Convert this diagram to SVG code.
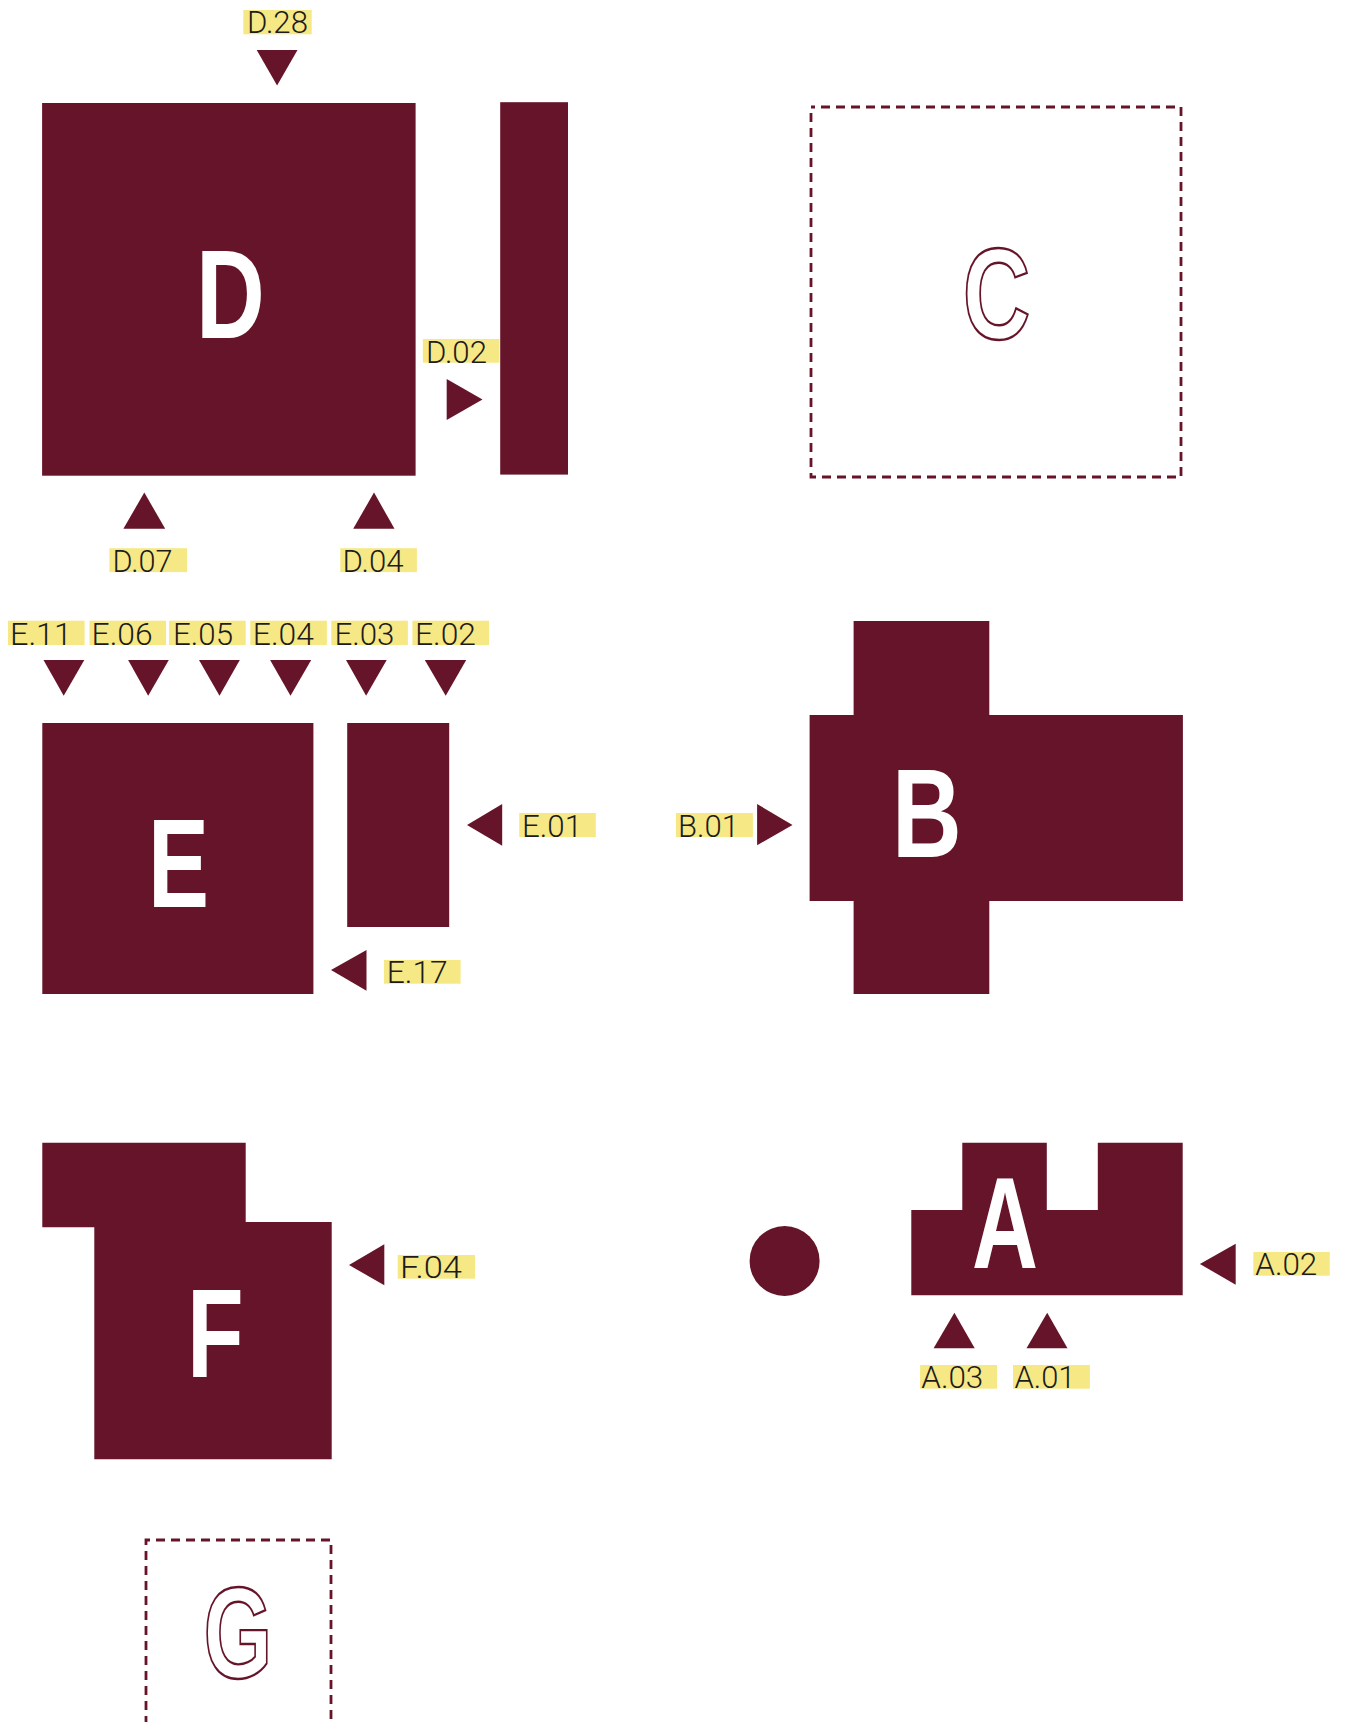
<svg xmlns="http://www.w3.org/2000/svg" width="1345" height="1722" viewBox="0 0 1345 1722">
<style>
.blk{fill:#661429}
.dash{fill:none;stroke:#661429;stroke-width:2.8;stroke-dasharray:9 6;stroke-dashoffset:5}
.big{font-family:"Liberation Sans",Arial,sans-serif;font-weight:bold;font-size:127px;text-anchor:middle;fill:#ffffff}
.out{font-family:"Liberation Sans",Arial,sans-serif;font-weight:bold;font-size:130px;text-anchor:middle;fill:#ffffff;stroke:#661429;stroke-width:2.4}
.hl{fill:#f7e886}
.lbl{font-family:Roboto,"Liberation Sans",Arial,sans-serif;font-weight:300;font-size:31px;fill:#1c1c1c}
.tri{fill:#661429}
</style>
<rect width="1345" height="1722" fill="#ffffff"/>

<g id="node-D">
<rect class="blk" x="42.1" y="103" width="373.5" height="372.7"/>
<rect class="blk" x="500.2" y="102.2" width="67.8" height="372.4"/>
<text class="big" transform="translate(230.3,338.3) scale(0.75,1)">D</text>
</g>

<g id="node-C">
<rect class="dash" x="811" y="107" width="370" height="370"/>
<text class="out" transform="translate(996.5,338.5) scale(0.72,1)">C</text>
</g>

<g id="node-E">
<rect class="blk" x="42.3" y="723" width="271.1" height="271"/>
<rect class="blk" x="347.2" y="723" width="102" height="204"/>
<text class="big" transform="translate(178.6,907) scale(0.72,1)">E</text>
</g>

<g id="node-B">
<path class="blk" d="M853.6,621 H989.3 V715 H1182.9 V901 H989.3 V994 H853.6 V901 H809.6 V715 H853.6 Z"/>
<text class="big" transform="translate(926.8,856.7) scale(0.76,1)">B</text>
</g>

<g id="node-F">
<path class="blk" d="M42.3,1142.7 H245.7 V1222 H331.7 V1459.3 H94.3 V1227.3 H42.3 Z"/>
<text class="big" transform="translate(215.4,1376.7) scale(0.73,1)">F</text>
</g>

<g id="node-dot">
<circle class="blk" cx="784.6" cy="1261" r="35"/>
</g>

<g id="node-A">
<path class="blk" d="M962.3,1142.7 H1046.8 V1210 H1097.8 V1142.7 H1182.7 V1295.3 H911.3 V1210 H962.3 Z"/>
<text class="big" transform="translate(1005,1267.7) scale(0.72,1.02)">A</text>
</g>

<g id="node-G">
<rect class="dash" x="146" y="1540" width="185" height="220"/>
<text class="out" transform="translate(238,1678) scale(0.68,1)">G</text>
</g>

<g id="connectors">
<polygon class="tri" points="256.7,50.1 297.5,50.1 277.1,85.6"/>
<polygon class="tri" points="446.7,379 446.7,420 482.5,399.5"/>
<polygon class="tri" points="123.4,528.8 165.2,528.8 144.3,492.5"/>
<polygon class="tri" points="353.2,528.8 394.5,528.8 374,492.5"/>
<polygon class="tri" points="43.5,660 84.3,660 63.7,695.7"/>
<polygon class="tri" points="128.1,660 168.8,660 148.2,695.7"/>
<polygon class="tri" points="199,660 239.8,660 219.5,695.7"/>
<polygon class="tri" points="270.1,660 311.2,660 290.5,695.7"/>
<polygon class="tri" points="346,660 386.7,660 366.1,695.7"/>
<polygon class="tri" points="424.8,660 466.2,660 445.7,695.7"/>
<polygon class="tri" points="502.2,804 502.2,845.7 467,825"/>
<polygon class="tri" points="366.5,950 366.5,990.7 331,970"/>
<polygon class="tri" points="757.1,804 757.1,845.3 792.5,825"/>
<polygon class="tri" points="384.3,1244.3 384.3,1285.3 349,1265"/>
<polygon class="tri" points="1235.7,1243.7 1235.7,1284.7 1199.9,1264"/>
<polygon class="tri" points="933.6,1348.3 974.7,1348.3 954.4,1312.7"/>
<polygon class="tri" points="1026.5,1348.3 1067.5,1348.3 1047.2,1312.7"/>
</g>

<g id="labels">
<rect class="hl" x="243.3" y="10" width="68.4" height="24.3"/>
<text class="lbl" x="247" y="33.3" textLength="61" lengthAdjust="spacingAndGlyphs">D.28</text>
<rect class="hl" x="422.8" y="339" width="76.6" height="23.7"/>
<text class="lbl" x="426" y="362.6" textLength="61" lengthAdjust="spacingAndGlyphs">D.02</text>
<rect class="hl" x="109.4" y="548.2" width="77.6" height="23.9"/>
<text class="lbl" x="112.6" y="571.8" textLength="60" lengthAdjust="spacingAndGlyphs">D.07</text>
<rect class="hl" x="340.3" y="548.2" width="76.6" height="23.9"/>
<text class="lbl" x="342.6" y="571.8" textLength="61" lengthAdjust="spacingAndGlyphs">D.04</text>

<rect class="hl" x="8" y="620.7" width="76.6" height="24.3"/>
<text class="lbl" x="10" y="644.6" textLength="62" lengthAdjust="spacingAndGlyphs">E.11</text>
<rect class="hl" x="89.5" y="620.7" width="76.6" height="24.3"/>
<text class="lbl" x="91.6" y="644.6" textLength="61" lengthAdjust="spacingAndGlyphs">E.06</text>
<rect class="hl" x="169.1" y="620.7" width="76.6" height="24.3"/>
<text class="lbl" x="173" y="644.6" textLength="60" lengthAdjust="spacingAndGlyphs">E.05</text>
<rect class="hl" x="250.3" y="620.7" width="76.6" height="24.3"/>
<text class="lbl" x="252.8" y="644.6" textLength="61" lengthAdjust="spacingAndGlyphs">E.04</text>
<rect class="hl" x="331.3" y="620.7" width="76.6" height="24.3"/>
<text class="lbl" x="334.4" y="644.6" textLength="60" lengthAdjust="spacingAndGlyphs">E.03</text>
<rect class="hl" x="412.4" y="620.7" width="76.6" height="24.3"/>
<text class="lbl" x="415" y="644.6" textLength="61" lengthAdjust="spacingAndGlyphs">E.02</text>
<rect class="hl" x="519.2" y="813" width="76.6" height="24"/>
<text class="lbl" x="522" y="836.6" textLength="60" lengthAdjust="spacingAndGlyphs">E.01</text>
<rect class="hl" x="384" y="960" width="76.6" height="23.7"/>
<text class="lbl" x="386.7" y="983.3" textLength="61" lengthAdjust="spacingAndGlyphs">E.17</text>

<rect class="hl" x="676" y="813" width="76.9" height="24"/>
<text class="lbl" x="677.9" y="836.6" textLength="61" lengthAdjust="spacingAndGlyphs">B.01</text>

<rect class="hl" x="397.7" y="1255" width="77.3" height="23.7"/>
<text class="lbl" x="400" y="1278.3" textLength="62" lengthAdjust="spacingAndGlyphs">F.04</text>

<rect class="hl" x="1253.3" y="1252" width="76.5" height="23.7"/>
<text class="lbl" x="1255.3" y="1275.3" textLength="62" lengthAdjust="spacingAndGlyphs">A.02</text>
<rect class="hl" x="920.1" y="1365" width="76.9" height="23.7"/>
<text class="lbl" x="921.3" y="1388.3" textLength="62" lengthAdjust="spacingAndGlyphs">A.03</text>
<rect class="hl" x="1013" y="1365" width="76.9" height="23.7"/>
<text class="lbl" x="1014.5" y="1388.3" textLength="61" lengthAdjust="spacingAndGlyphs">A.01</text>
</g>
</svg>
